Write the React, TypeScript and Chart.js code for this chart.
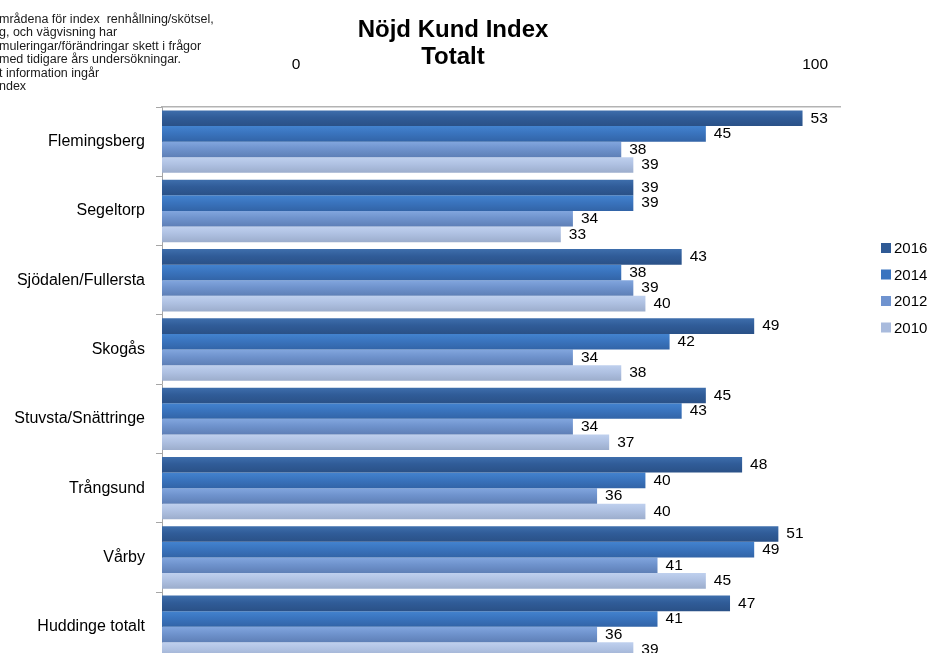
import React, { useEffect, useRef } from "react";
import { Chart, registerables } from "chart.js";

Chart.register(...registerables);

const categories = [
  "Flemingsberg",
  "Segeltorp",
  "Sjödalen/Fullersta",
  "Skogås",
  "Stuvsta/Snättringe",
  "Trångsund",
  "Vårby",
  "Huddinge totalt",
];
const seriesNames = ["2016", "2014", "2012", "2010"];
const values2016 = [53, 39, 43, 49, 45, 48, 51, 47];
const values2014 = [45, 39, 38, 42, 43, 40, 49, 41];
const values2012 = [38, 34, 39, 34, 34, 36, 41, 36];
const values2010 = [39, 33, 40, 38, 37, 40, 45, 39];
const topTickLabels = [0, 100];
const titleLines = ["Nöjd Kund Index", "Totalt"];
const noteLines = [
  "mrådena för index  renhållning/skötsel,",
  "g, och vägvisning har",
  "muleringar/förändringar skett i frågor",
  "med tidigare års undersökningar.",
  "t information ingår",
  "ndex",
];

const FONT = "'Liberation Sans', Arial, sans-serif";
const CAT_PCT = 0.9;

// [top, mid, bottom] gradient colours and legend colour per series
const gradients = [
  ["#3e6eac", "#305c98", "#2a5187"],
  ["#4383cf", "#3a74be", "#3264a7"],
  ["#82a6de", "#6f93cd", "#5e7fb6"],
  ["#bfd0ee", "#afc1e2", "#9cadcc"],
];
const legendColors = ["#2f5a95", "#3a74bf", "#6f93cf", "#a9bbdd"];

function makeFill(dsIndex: number) {
  return (ctx: any) => {
    const chart = ctx.chart;
    const y = chart.scales && chart.scales.y;
    if (!y || ctx.type !== "data" || !chart.chartArea) return legendColors[dsIndex];
    const n = chart.data.labels.length;
    const step = (y.bottom - y.top) / n;
    const center = y.getPixelForValue(ctx.dataIndex);
    const thick = (step * CAT_PCT) / seriesNames.length;
    const top = center - (step * CAT_PCT) / 2 + dsIndex * thick;
    const g = chart.ctx.createLinearGradient(0, top, 0, top + thick);
    const c = gradients[dsIndex];
    g.addColorStop(0, c[0]);
    g.addColorStop(0.45, c[1]);
    g.addColorStop(1, c[2]);
    return g;
  };
}

const extrasPlugin = {
  id: "extras",
  afterDatasetsDraw(chart: any) {
    const ctx = chart.ctx;
    ctx.save();
    ctx.font = `15.5px ${FONT}`;
    ctx.fillStyle = "#000";
    ctx.textAlign = "left";
    ctx.textBaseline = "middle";
    chart.data.datasets.forEach((ds: any, i: number) => {
      const meta = chart.getDatasetMeta(i);
      meta.data.forEach((el: any, j: number) => {
        ctx.fillText(String(ds.data[j]), el.x + 8, el.y);
      });
    });
    ctx.restore();
  },
  afterDraw(chart: any) {
    const ctx = chart.ctx;
    ctx.save();
    // title
    ctx.font = `bold 24px ${FONT}`;
    ctx.fillStyle = "#000";
    ctx.textAlign = "center";
    ctx.textBaseline = "middle";
    titleLines.forEach((t, i) => ctx.fillText(t, 453, 30 + i * 27));
    // note
    ctx.font = `12.5px ${FONT}`;
    ctx.fillStyle = "#1a1a1a";
    ctx.textAlign = "left";
    noteLines.forEach((t, i) => ctx.fillText(t, -1, 19.5 + i * 13.5));
    // legend
    ctx.font = `15px ${FONT}`;
    chart.data.datasets.forEach((ds: any, i: number) => {
      const cy = 248 + i * 26.5;
      ctx.fillStyle = legendColors[i];
      ctx.fillRect(881, cy - 5, 10, 10);
      ctx.fillStyle = "#000";
      ctx.fillText(ds.label, 894, cy + 1);
    });
    ctx.restore();
  },
};

export default function App() {
  const ref = useRef<HTMLCanvasElement | null>(null);
  useEffect(() => {
    if (!ref.current) return;
    const all = [values2016, values2014, values2012, values2010];
    const chart = new Chart(ref.current, {
      type: "bar",
      data: {
        labels: categories,
        datasets: seriesNames.map((name, i) => ({
          label: name,
          data: all[i],
          backgroundColor: makeFill(i),
          borderWidth: 0,
          categoryPercentage: CAT_PCT,
          barPercentage: 1,
          xAxisID: "x",
          yAxisID: "y",
        })),
      },
      options: {
        indexAxis: "y",
        responsive: false,
        animation: false,
        layout: { padding: { top: 0, right: 92, left: 0, bottom: 0 } },
        plugins: {
          legend: { display: false },
          title: { display: false },
          tooltip: { enabled: false },
        },
        scales: {
          y: {
            type: "category",
            position: "left",
            offset: true,
            grid: {
              display: true,
              offset: true,
              drawOnChartArea: false,
              tickLength: 6,
              color: "#a6a6a6",
            },
            border: { display: true, color: "#a6a6a6" },
            ticks: {
              padding: 11,
              color: "#000",
              font: { family: FONT, size: 16, weight: "normal" },
            },
            afterFit: (s: any) => {
              s.width = 162;
            },
          },
          x: {
            type: "linear",
            position: "top",
            min: 0,
            max: 56.1,
            weight: 0,
            ticks: { display: false },
            grid: { display: false },
            border: { display: true, color: "#b3b3b3", width: 1.5 },
            afterFit: (s: any) => {
              s.height = 0;
            },
          },
          x2: {
            type: "linear",
            position: "top",
            min: -25.8,
            max: 104.8,
            weight: 1,
            grid: { display: false },
            border: { display: false },
            ticks: {
              padding: 25,
              color: "#000",
              autoSkip: false,
              maxRotation: 0,
              font: { family: FONT, size: 15.5, weight: "normal" },
            },
            afterBuildTicks: (s: any) => {
              s.ticks = topTickLabels.map((v) => ({ value: v }));
            },
            afterFit: (s: any) => {
              s.height = 107;
            },
          },
        },
      } as any,
      plugins: [extrasPlugin],
    });
    return () => chart.destroy();
  }, []);

  return (
    <div
      style={{
        position: "fixed",
        left: 0,
        top: 0,
        width: 932,
        height: 653,
        overflow: "hidden",
        background: "#fff",
      }}
    >
      <canvas ref={ref} width={932} height={682} style={{ display: "block" }} />
    </div>
  );
}
